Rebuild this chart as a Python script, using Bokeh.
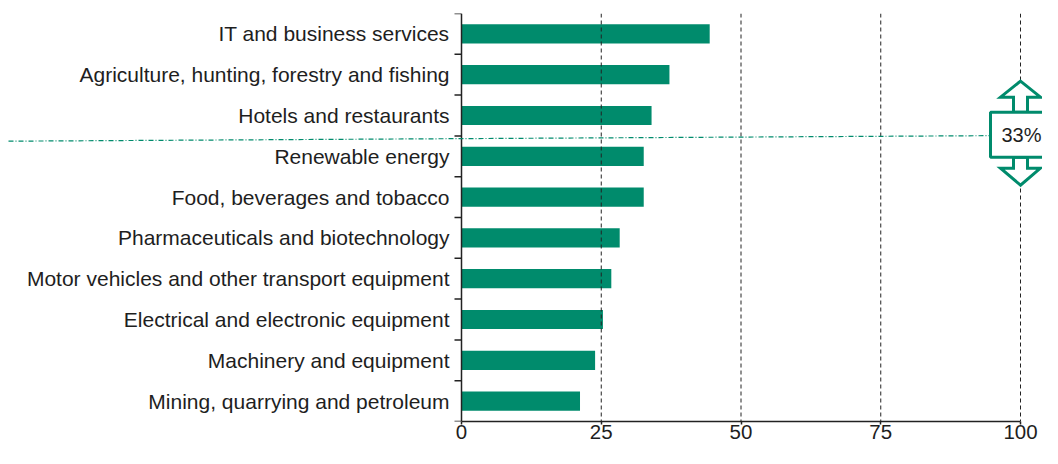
import numpy as np
from bokeh.plotting import figure
from bokeh.models import Range1d, FixedTicker, ColumnDataSource
from bokeh.core.properties import value
from bokeh.embed import file_html
from bokeh.resources import INLINE

# ---------------- data ----------------
categories = [
    "IT and business services",
    "Agriculture, hunting, forestry and fishing",
    "Hotels and restaurants",
    "Renewable energy",
    "Food, beverages and tobacco",
    "Pharmaceuticals and biotechnology",
    "Motor vehicles and other transport equipment",
    "Electrical and electronic equipment",
    "Machinery and equipment",
    "Mining, quarrying and petroleum",
]
values = [44.4, 37.2, 34.0, 32.6, 32.6, 28.3, 26.8, 25.3, 23.9, 21.2]
x_ticks = [0, 25, 50, 75, 100]
threshold_label = "33%"

# ---------------- layout constants ----------------
W, H = 1042, 448
X0_CANVAS = 461          # canvas x of value 0
PX_PER_X = 5.59          # screen pixels per x unit
X_START = -X0_CANVAS / PX_PER_X
X_END = (W - X0_CANVAS) / PX_PER_X
TOP_BORDER, BOTTOM_BORDER = 13, 27
FRAME_H = H - TOP_BORDER - BOTTOM_BORDER
n = len(categories)
PX_PER_Y = FRAME_H / n

GREEN = "#008b6c"
DARK = "#222222"
TEXT = "#1e1e1e"
FONT = value("Liberation Sans")

def dx(px):
    return px / PX_PER_X

def dy(px):
    return px / PX_PER_Y

ys = list(range(n))

p = figure(width=W, height=H, output_backend="svg", toolbar_location=None,
           x_range=Range1d(X_START, X_END), y_range=Range1d(n - 0.5, -0.5),
           y_axis_location=None, min_border_left=0, min_border_right=0,
           min_border_top=TOP_BORDER, min_border_bottom=BOTTOM_BORDER)
p.outline_line_color = None
p.xgrid.visible = False
p.ygrid.visible = False
p.background_fill_color = "white"
p.border_fill_color = "white"

# bars
src = ColumnDataSource(dict(y=ys, v=values, cat=categories))
p.hbar(y="y", left=0, right="v", height=0.47, source=src,
       fill_color=GREEN, line_color=None)

# category labels
p.text(x=0, y="y", text="cat", source=src, x_offset=-12,
       text_align="right", text_baseline="middle",
       text_font=FONT, text_font_size="21px", text_color=TEXT)

# vertical dashed grid lines
grid_x = [t for t in x_ticks if t > 0]
p.segment(x0=grid_x, x1=grid_x, y0=[-0.5] * len(grid_x), y1=[n - 0.5] * len(grid_x),
          line_color=DARK, line_width=1, line_dash="4 3")

# y axis line and ticks at category boundaries
p.segment(x0=[0], x1=[0], y0=[-0.5], y1=[n - 0.5], line_color=DARK, line_width=1.5)
bounds_y = [k - 0.5 for k in range(n + 1)]
p.ray(x=[0] * len(bounds_y), y=bounds_y, length=7, length_units="screen",
      angle=np.pi, line_color=DARK, line_width=1.5)

# threshold marker (box with up/down arrows at x = 100)
cx = x_ticks[-1]
cy = 2.47
box_half_h = dy(22.5)
box_left = cx - dx(30)
# green dash-dot line
p.segment(x0=[X_START + dx(8)], y0=[cy + dy(6.5)], x1=[box_left], y1=[cy + dy(1)],
          line_color=GREEN, line_width=1.2, line_dash="5 2 1 2")

shaft_w, head_w = dx(7), dx(20)
top = cy - box_half_h
bot = cy + box_half_h
up_xs = [cx, cx - head_w, cx - shaft_w, cx - shaft_w, cx + shaft_w, cx + shaft_w, cx + head_w]
up_ys = [top - dy(31), top - dy(15), top - dy(15), top, top, top - dy(15), top - dy(15)]
dn_xs = up_xs
dn_ys = [bot + dy(28), bot + dy(11), bot + dy(11), bot, bot, bot + dy(11), bot + dy(11)]
p.patches(xs=[up_xs, dn_xs], ys=[up_ys, dn_ys], fill_color="white",
          line_color=GREEN, line_width=3, line_join="miter")
p.quad(left=[box_left], right=[X_END + 1], top=[top], bottom=[bot],
       fill_color="white", line_color=GREEN, line_width=3)
p.text(x=[cx + dx(1)], y=[cy], text=[threshold_label], text_align="center",
       text_baseline="middle", text_font=FONT, text_font_size="20px", text_color=TEXT)

# x axis
ax = p.xaxis[0]
ax.ticker = FixedTicker(ticks=x_ticks)
ax.bounds = (x_ticks[0], x_ticks[-1])
ax.axis_line_color = DARK
ax.axis_line_width = 1.5
ax.major_tick_line_color = DARK
ax.major_tick_line_width = 1.5
ax.major_tick_out = 3
ax.major_tick_in = 0
ax.minor_tick_line_color = None
ax.major_label_standoff = 0
ax.major_label_text_font = "Liberation Sans"
ax.major_label_text_font_size = "20.5px"
ax.major_label_text_color = TEXT

open("out.html", "w").write(file_html(p, INLINE))
